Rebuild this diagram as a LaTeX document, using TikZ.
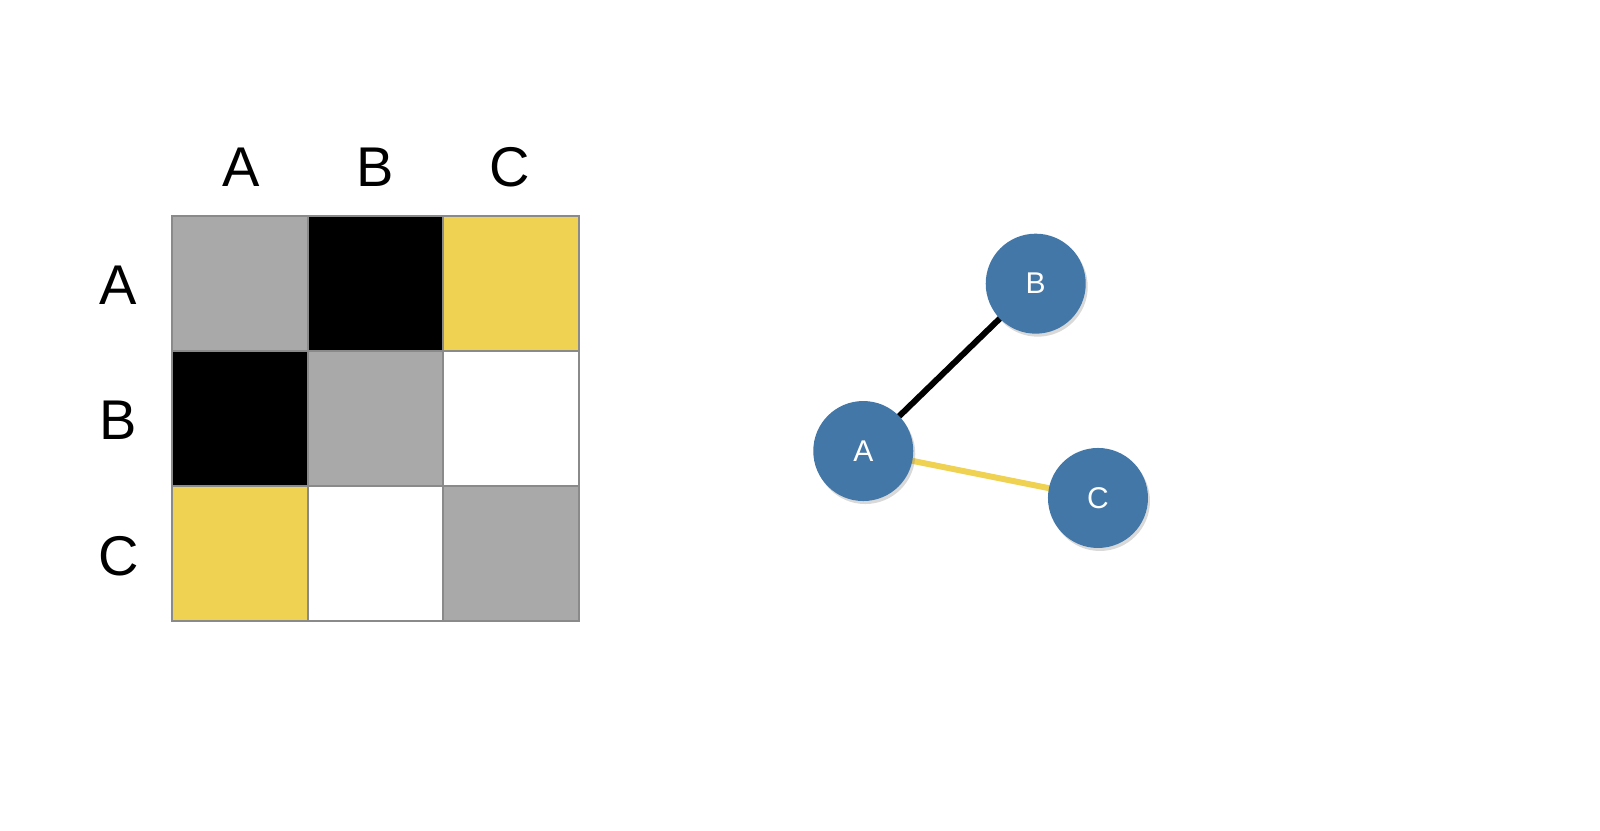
\documentclass[tikz,border=0pt]{standalone}
\usepackage{fontspec}
\setmainfont{Liberation Sans}
\usetikzlibrary{shadows,backgrounds}
\definecolor{cgray}{HTML}{A8A9A8}
\definecolor{cyel}{HTML}{F0D252}
\definecolor{cblue}{HTML}{4377A7}
\definecolor{cline}{HTML}{8A8A8A}
\begin{document}
\begin{tikzpicture}[x=0.5102pt,y=-0.5102pt,
  cell/.style={draw=cline,line width=1pt},
  lab/.style={font=\fontsize{28}{30}\selectfont},
  vert/.style={circle,fill=cblue,minimum size=50pt,inner sep=0pt,text=white,font=\fontsize{15}{17}\selectfont,drop shadow={opacity=0.3,shadow xshift=1pt,shadow yshift=-1.5pt}}]
\useasboundingbox (0,0) rectangle (1568,813.5);
\foreach \c [count=\i from 0] in {cgray,black,cyel,black,cgray,white,cyel,white,cgray}{
  \pgfmathtruncatemacro\col{mod(\i,3)}
  \pgfmathtruncatemacro\row{div(\i,3)}
  \filldraw[cell,fill=\c] ({169+132.7*\col},{212+132.3*\row}) rectangle ++(132.7,132.3);
}
\node[lab] (ha) at (236,164) {A};
\node[lab] (hb) at (368,164) {B};
\node[lab] (hc) at (500,164) {C};
\node[lab] (ra) at (116,280) {A};
\node[lab] (rb) at (116,412) {B};
\node[lab] (rc) at (116,545) {C};
\node[vert] (A) at (846,442) {A};
\node[vert] (B) at (1015,278) {B};
\node[vert] (C) at (1076,488) {C};
\begin{scope}[on background layer]
\draw[line width=3pt,black] (A.center) -- (B.center);
\draw[line width=3pt,cyel] (A.center) -- (C.center);
\end{scope}
\end{tikzpicture}
\end{document}
